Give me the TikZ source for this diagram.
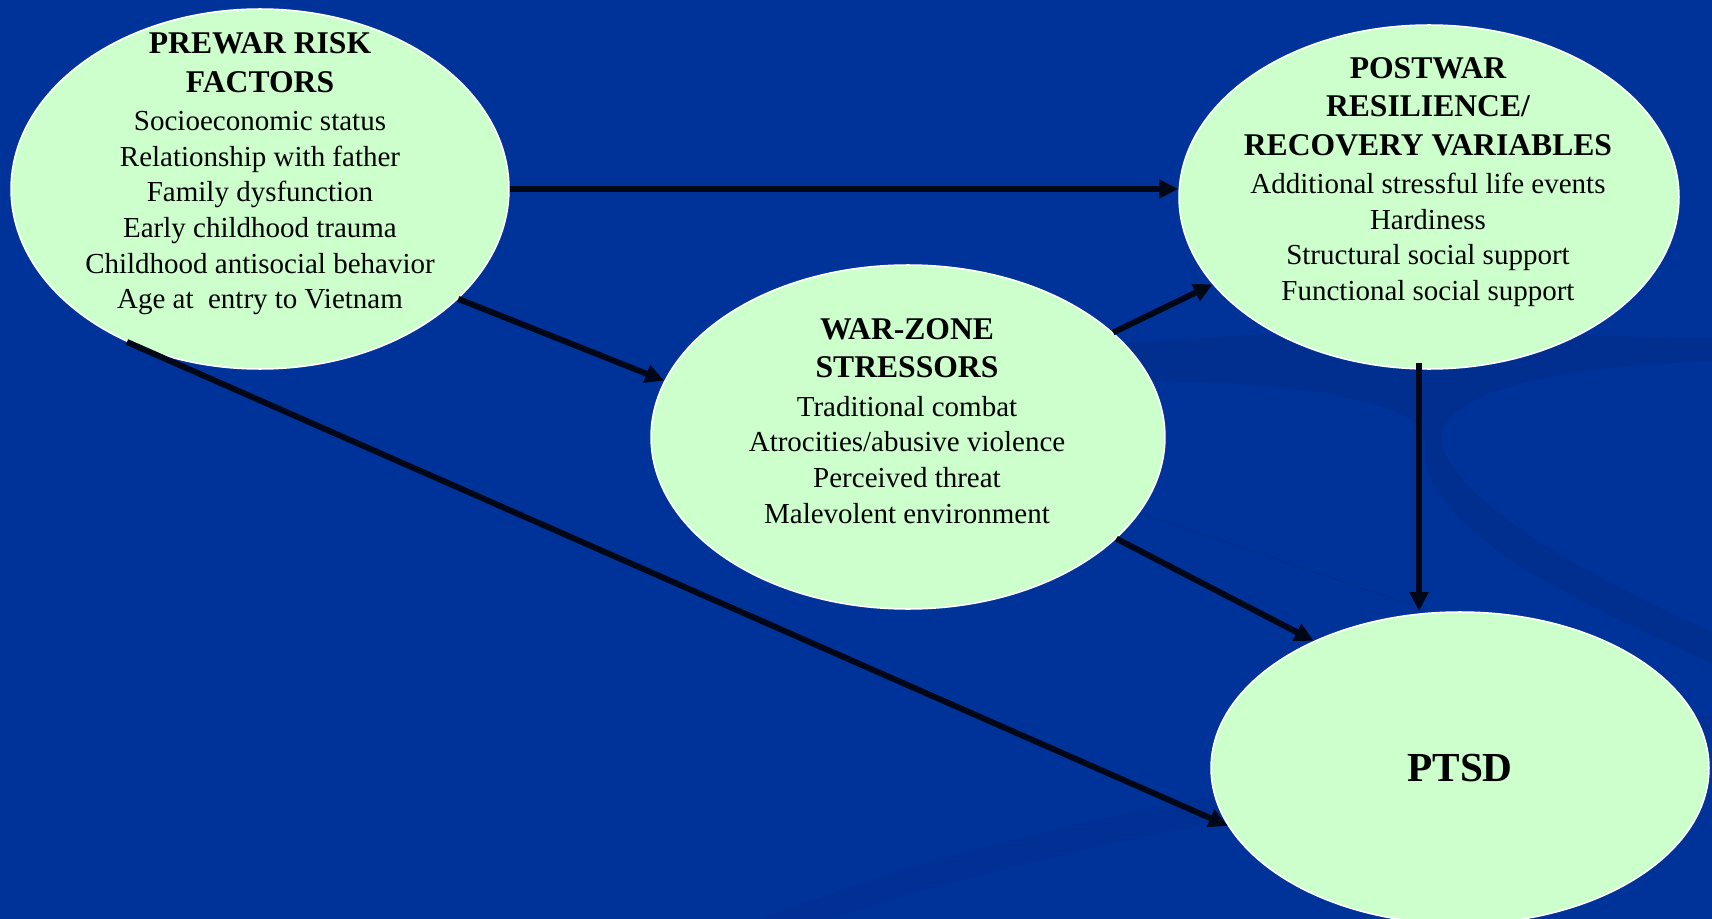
\documentclass[tikz,border=0pt]{standalone}
\usepackage{fontspec}
\setmainfont{Liberation Serif}
\usetikzlibrary{shapes.geometric, arrows.meta, positioning, calc}

\definecolor{slideblue}{RGB}{0,51,153}
\definecolor{swirlblue}{RGB}{0,47,144}
\definecolor{mintfill}{RGB}{204,255,204}
\definecolor{arrowink}{RGB}{0,8,24}

\tikzset{
  factor/.style={ellipse, fill=mintfill, draw=white, line width=0.9pt, inner sep=0pt},
  factortext/.style={align=center, text=black, font=\fontsize{16.5}{20.3}\selectfont},
  flow/.style={draw=arrowink, line width=3.4pt, -{Triangle[length=0.38cm, width=0.36cm]}}
}
\newcommand{\factorhead}[1]{{\fontsize{18}{22}\selectfont\bfseries #1}}

\begin{document}
\begin{tikzpicture}[x=0.02cm, y=-0.02cm]
    % ---------------- BACKGROUND ----------------
    \fill[slideblue] (0,0) rectangle (1712,919);
    \useasboundingbox (0,0) rectangle (1712,919);
    \fill[swirlblue] (1050,352) .. controls (1300,318) and (1600,338) .. (1712,338)
        -- (1712,362) .. controls (1560,364) and (1430,395) .. (1442,445)
        .. controls (1462,515) and (1640,600) .. (1712,632)
        -- (1712,664) .. controls (1600,610) and (1415,535) .. (1425,442)
        .. controls (1430,398) and (1250,372) .. (1060,385) -- cycle;
    \fill[swirlblue, opacity=0.6] (760,919) .. controls (920,860) and (1100,800) .. (1712,715)
        -- (1712,735) .. controls (1200,815) and (960,875) .. (830,919) -- cycle;
    \draw[swirlblue, line width=1pt] (1139,513) -- (1412,605);

    % ---------------- FACTORS ----------------
    \node[factor, minimum width=9.96cm, minimum height=7.2cm] (prewar) at (260,189) {};
    \node[factortext] (prewarlbl) at (260,174) {\factorhead{PREWAR RISK}\\[1.5pt]
        \factorhead{FACTORS}\\[1.5pt]
        Socioeconomic status\\ Relationship with father\\ Family dysfunction\\
        Early childhood trauma\\ Childhood antisocial behavior\\ Age at\ \ entry to Vietnam};

    \node[factor, minimum width=10cm, minimum height=6.88cm] (postwar) at (1429,197) {};
    \node[factortext] (postwarlbl) at (1428,182) {\factorhead{POSTWAR}\\[1.5pt]
        \factorhead{RESILIENCE/}\\[1.5pt] \factorhead{RECOVERY VARIABLES}\\[1.5pt]
        Additional stressful life events\\ Hardiness\\
        Structural social support\\ Functional social support};

    \node[factor, minimum width=10.28cm, minimum height=6.88cm] (warzone) at (908,437) {};
    \node[factortext] (warzonelbl) at (907,421) {\factorhead{WAR-ZONE}\\[1.5pt]
        \factorhead{STRESSORS}\\[1.5pt]
        Traditional combat\\ Atrocities/abusive violence\\
        Perceived threat\\ Malevolent environment};

    \node[factor, minimum width=9.96cm, minimum height=6.24cm,
          font=\fontsize{23.5}{28}\selectfont\bfseries] (ptsd) at (1460,768) {PTSD};

    % ---------------- PATHS ----------------
    \draw[flow] (prewar.east) -- (prewar.east -| postwar.west);
    \draw[flow] (prewar.-29) -- (warzone.167);
    \draw[flow] (prewar.229) -- (ptsd.194);
    \draw[flow] (warzone.27) -- (postwar.202);
    \draw[flow] (warzone.-26) -- (ptsd.139);
    \coordinate (drop) at ([xshift=-0.2cm, yshift=0.14cm]postwar.south);
    \draw[flow] (drop) -- (drop |- ptsd.north);
\end{tikzpicture}
\end{document}
